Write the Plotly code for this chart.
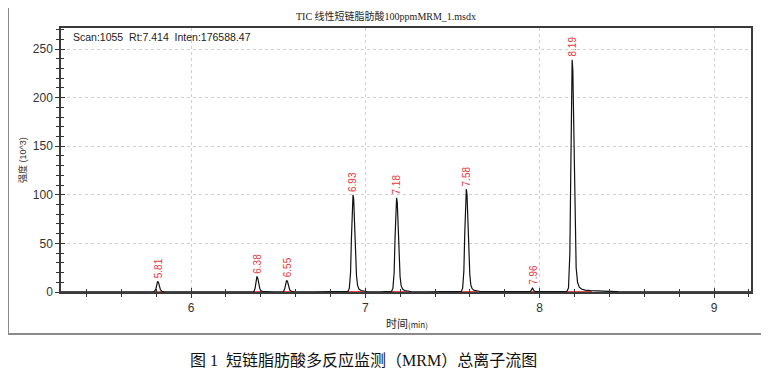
import plotly.graph_objects as go

# ---- data (retention time in min, intensity in 10^3) ----
rt_min = [
    5.254, 5.40, 5.55, 5.70, 5.78,
    5.790, 5.798, 5.803, 5.808, 5.813, 5.818, 5.824, 5.832, 5.845,
    5.95, 6.10, 6.25, 6.34,
    6.360, 6.367, 6.373, 6.378, 6.383, 6.389, 6.395, 6.404, 6.420,
    6.480, 6.520,
    6.530, 6.537, 6.543, 6.548, 6.553, 6.559, 6.566, 6.576, 6.590,
    6.700, 6.820, 6.890,
    6.900, 6.908, 6.915, 6.920, 6.925, 6.929, 6.933, 6.938, 6.943, 6.949, 6.955, 6.963, 6.975, 6.990, 7.010,
    7.080, 7.140,
    7.150, 7.158, 7.165, 7.170, 7.175, 7.179, 7.183, 7.188, 7.193, 7.199, 7.205, 7.213, 7.225, 7.240, 7.260,
    7.350, 7.450, 7.540,
    7.550, 7.558, 7.565, 7.570, 7.575, 7.579, 7.583, 7.588, 7.593, 7.599, 7.605, 7.613, 7.625, 7.640, 7.660, 7.690,
    7.800, 7.900, 7.945,
    7.952, 7.958, 7.962, 7.968, 7.980,
    8.050, 8.140,
    8.155, 8.165, 8.173, 8.178, 8.182, 8.186, 8.190, 8.194, 8.198, 8.203, 8.209, 8.217, 8.227, 8.240, 8.260, 8.290, 8.330, 8.400, 8.450,
    8.600, 8.800, 9.000, 9.212,
]
intensity = [
    0.2, 0.2, 0.2, 0.2, 0.3,
    0.4, 3.0, 8.0, 11.0, 10.0, 6.0, 2.5, 0.8, 0.3,
    0.2, 0.2, 0.2, 0.3,
    0.4, 3.5, 11.0, 16.0, 14.0, 8.0, 3.0, 1.0, 0.3,
    0.2, 0.3,
    0.4, 3.0, 9.0, 12.0, 11.0, 6.0, 2.2, 0.8, 0.3,
    0.2, 0.2, 0.3,
    0.6, 4.0, 20.0, 55.0, 86.0, 100.0, 95.0, 70.0, 40.0, 17.0, 7.0, 3.0, 1.5, 0.8, 0.4,
    0.2, 0.3,
    0.6, 4.0, 20.0, 55.0, 84.0, 97.0, 92.0, 68.0, 38.0, 16.0, 6.5, 3.0, 1.5, 0.8, 0.4,
    0.2, 0.2, 0.3,
    0.6, 4.0, 22.0, 60.0, 92.0, 106.0, 100.0, 74.0, 42.0, 18.0, 7.0, 3.2, 1.6, 0.9, 0.5, 0.3,
    0.2, 0.2, 0.3,
    2.0, 4.0, 3.0, 1.0, 0.3,
    0.2, 0.3,
    0.6, 4.0, 40.0, 120.0, 200.0, 239.0, 228.0, 182.0, 120.0, 60.0, 25.0, 10.0, 5.0, 3.0, 2.0, 1.5, 1.0, 0.6, 0.3,
    0.2, 0.2, 0.2, 0.2,
]

peak_rt = [5.81, 6.38, 6.55, 6.93, 7.18, 7.58, 7.96, 8.19]
peak_height = [11.0, 16.0, 12.0, 100.0, 97.0, 106.0, 4.0, 239.0]
peak_label = ["5.81", "6.38", "6.55", "6.93", "7.18", "7.58", "7.96", "8.19"]
peak_start = [5.785, 6.355, 6.525, 6.885, 7.140, 7.540, 7.945, 8.145]
peak_end = [5.835, 6.410, 6.580, 6.990, 7.240, 7.640, 7.975, 8.300]

x_range = [5.254, 9.212]
y_range = [0, 271.6]

title_text = "TIC 线性短链脂肪酸100ppmMRM_1.msdx"
scan_text = "Scan:1055  Rt:7.414  Inten:176588.47"
y_title = "强度 (10^3)"
x_title = "时间<span style='font-size:8px'>(min)</span>"
caption = "图 1  短链脂肪酸多反应监测（MRM）总离子流图"

# ---- figure ----
fig = go.Figure()

# integration baselines (red) under each peak
bx, by = [], []
for s, e in zip(peak_start, peak_end):
    bx += [s, e, None]
    by += [0.3, 0.3, None]
fig.add_trace(go.Scatter(x=bx, y=by, mode="lines",
                         line=dict(color="#d9302c", width=1.2),
                         hoverinfo="skip", showlegend=False))

fig.add_trace(go.Scatter(x=rt_min, y=intensity, mode="lines",
                         line=dict(color="#111111", width=1.2),
                         showlegend=False))

# overlay axes to make crossing ticks
fig.add_trace(go.Scatter(x=x_range, y=[0, 0], xaxis="x2", yaxis="y2",
                         mode="lines", line=dict(width=0), hoverinfo="skip",
                         showlegend=False))

for rt, h, lab in zip(peak_rt, peak_height, peak_label):
    fig.add_annotation(x=rt, y=h, text=lab, showarrow=False, textangle=-90,
                       xanchor="center", yanchor="bottom", yshift=1,
                       font=dict(family="Liberation Sans, Arial", size=10, color="#e8383d"))

tickfont = dict(family="Liberation Sans, Arial", size=12, color="#333333")

fig.update_layout(
    width=769, height=380,
    margin=dict(l=53, r=26, t=20, b=96),
    paper_bgcolor="white", plot_bgcolor="white",
    xaxis=dict(range=x_range, tickvals=[6, 7, 8, 9], ticks="outside", ticklen=4,
               tickcolor="#333", tickwidth=1,
               minor=dict(dtick=0.2, tick0=6, ticks="outside", ticklen=3, tickcolor="#333"),
               showgrid=True, gridcolor="#cfcfcf", griddash="dot", gridwidth=1,
               showline=True, linecolor="#3a3a3a", linewidth=1.5, mirror=True,
               zeroline=False, tickfont=tickfont),
    yaxis=dict(range=y_range, tickvals=[0, 50, 100, 150, 200, 250], ticks="outside", ticklen=4,
               tickcolor="#333", tickwidth=1,
               minor=dict(dtick=10, tick0=0, ticks="outside", ticklen=3, tickcolor="#333"),
               showgrid=True, gridcolor="#cfcfcf", griddash="dot", gridwidth=1,
               showline=True, linecolor="#3a3a3a", linewidth=1.5, mirror=True,
               zeroline=False, tickfont=tickfont),
    xaxis2=dict(range=x_range, overlaying="x", side="bottom", anchor="y2",
                tickvals=[6, 7, 8, 9], ticks="inside", ticklen=4, tickcolor="#333",
                minor=dict(dtick=0.2, tick0=6, ticks="inside", ticklen=3, tickcolor="#333"),
                showticklabels=False, showgrid=False, showline=False, zeroline=False),
    yaxis2=dict(range=y_range, overlaying="y", side="left", anchor="x2",
                tickvals=[0, 50, 100, 150, 200, 250], ticks="inside", ticklen=4, tickcolor="#333",
                minor=dict(dtick=10, tick0=0, ticks="inside", ticklen=3, tickcolor="#333"),
                showticklabels=False, showgrid=False, showline=False, zeroline=False),
    hovermode=False,
)

# outer frame
fig.add_shape(type="rect", xref="paper", yref="paper",
              x0=(8 - 61) / 690, x1=(763 - 61) / 690,
              y0=(292 - 334) / 264, y1=(292 - 4) / 264,
              line=dict(color="#8a8a8a", width=2), fillcolor="rgba(0,0,0,0)", layer="below")

fig.add_annotation(xref="paper", yref="paper", x=(386 - 61) / 690, y=(292 - 16) / 264,
                   text=title_text, showarrow=False, xanchor="center", yanchor="middle",
                   font=dict(family="Liberation Serif, Noto Sans CJK SC", size=10, color="#222"))
fig.add_annotation(xref="paper", yref="paper", x=(71 - 61) / 690, y=(292 - 37) / 264,
                   text=scan_text, showarrow=False, xanchor="left", yanchor="middle",
                   font=dict(family="Liberation Sans, Arial", size=10.5, color="#222"))
fig.add_annotation(xref="paper", yref="paper", x=(22 - 61) / 690, y=(292 - 160) / 264,
                   text=y_title, showarrow=False, textangle=-90, xanchor="center", yanchor="middle",
                   font=dict(family="Liberation Sans, Noto Sans CJK SC", size=9, color="#333"))
fig.add_annotation(xref="paper", yref="paper", x=(407 - 61) / 690, y=(292 - 323) / 264,
                   text=x_title, showarrow=False, xanchor="center", yanchor="middle",
                   font=dict(family="Noto Sans CJK SC", size=11, color="#222"))
fig.add_annotation(xref="paper", yref="paper", x=(363 - 61) / 690, y=(292 - 360) / 264,
                   text=caption, showarrow=False, xanchor="center", yanchor="middle",
                   font=dict(family="Liberation Serif, Noto Sans CJK SC", size=16, color="#111"))

fig.write_html("out.html")
